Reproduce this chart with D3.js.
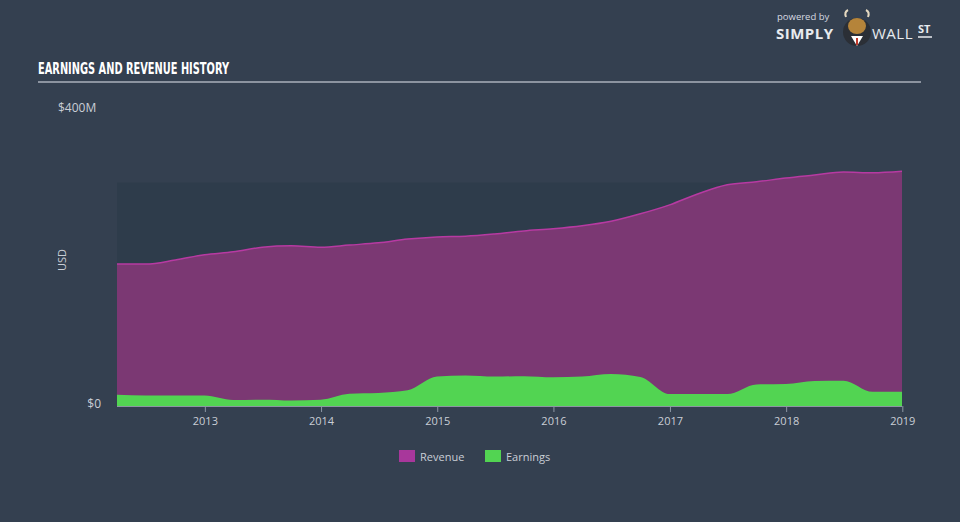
<!DOCTYPE html>
<html><head><meta charset="utf-8">
<script src="https://cdn.jsdelivr.net/npm/d3@7"></script>
<style>
html,body{margin:0;padding:0;background:#344050;}
svg{display:block;}
</style></head>
<body>
<svg id="chart" width="960" height="522"></svg>
<script>
const dates = ["2012-03-31","2012-06-30","2012-09-30","2012-12-31",
  "2013-03-31","2013-06-30","2013-09-30","2013-12-31",
  "2014-03-31","2014-06-30","2014-09-30","2014-12-31",
  "2015-03-31","2015-06-30","2015-09-30","2015-12-31",
  "2016-03-31","2016-06-30","2016-09-30","2016-12-31",
  "2017-03-31","2017-06-30","2017-09-30","2017-12-31",
  "2018-03-31","2018-06-30","2018-09-30","2018-12-31"];
const revenue = [190.6,190.6,196,203,207,213,215,213,216,219,224,227,228,231,235,238,242,248,258,270,285,297,301,306,310,314,313,315];
const earnings = [15,14,14,14,8,8.5,7.5,8.5,16.5,17.5,21,39.5,41,39.5,40,38.5,39.5,43,39,16,16,16,29,29.5,33.5,34,19,19];
const xTickYears = [2013,2014,2015,2016,2017,2018,2019];
const yTicks = [0,400];
const bandTop = 300;
const legendItems = ["Revenue","Earnings"];

const parse = d3.timeParse("%Y-%m-%d");
const data = dates.map((d,i)=>({date:parse(d), rev:revenue[i], earn:earnings[i]}));

const svg = d3.select("#chart");
const colors = {bg:"#344050", band:"#2e3c4b", revFill:"#7b3873", revLine:"#b73aa2", earn:"#52d452", text:"#c9ced6", axis:"#8c96a3"};

svg.append("rect").attr("width",960).attr("height",522).attr("fill",colors.bg);

const x = d3.scaleTime().domain([data[0].date, data[data.length-1].date]).range([117,902]);
const y = d3.scaleLinear().domain([0,400]).range([406,108]);

// shaded band
svg.append("rect").attr("x",x(data[0].date)).attr("y",y(bandTop))
  .attr("width",x(data[data.length-1].date)-x(data[0].date)).attr("height",y(0)-y(bandTop))
  .attr("fill",colors.band);

// title
svg.append("text").attr("x",38).attr("y",74).text("EARNINGS AND REVENUE HISTORY")
  .attr("fill","#ffffff").attr("font-family","'Liberation Sans Narrow','DejaVu Sans Condensed',sans-serif")
  .attr("font-weight","bold").attr("font-size",16).attr("textLength",191).attr("lengthAdjust","spacingAndGlyphs");
svg.append("line").attr("x1",38).attr("x2",921).attr("y1",82).attr("y2",82)
  .attr("stroke","#aab1bb").attr("stroke-width",1.5);

// areas
const curve = d3.curveMonotoneX;
const revArea = d3.area().x(d=>x(d.date)).y0(y(0)).y1(d=>y(d.rev)).curve(curve);
const revLine = d3.line().x(d=>x(d.date)).y(d=>y(d.rev)).curve(curve);
const earnArea = d3.area().x(d=>x(d.date)).y0(y(0)).y1(d=>y(d.earn)).curve(curve);

svg.append("path").datum(data).attr("d",revArea).attr("fill",colors.revFill);
svg.append("path").datum(data).attr("d",revLine).attr("fill","none").attr("stroke",colors.revLine).attr("stroke-width",1.5);
svg.append("path").datum(data).attr("d",earnArea).attr("fill",colors.earn);

// x axis
const xAxis = d3.axisBottom(x)
  .tickValues(xTickYears.map(yr=>new Date(yr,0,1)))
  .tickFormat(d3.timeFormat("%Y")).tickSize(6).tickSizeOuter(0);
const gx = svg.append("g").attr("transform",`translate(0,${y(0)})`).call(xAxis);
gx.select(".domain").attr("stroke",colors.axis).attr("d",`M${x(data[0].date)},0.5H${x(data[data.length-1].date)}`);
gx.selectAll(".tick line").attr("stroke",colors.axis);
gx.selectAll(".tick text").attr("fill",colors.text).attr("font-family","'Open Sans',sans-serif").attr("font-size",11).attr("dy","0.9em");

// y labels
svg.append("text").attr("x",58).attr("y",y(400)+4).text("$400M")
  .attr("fill",colors.text).attr("font-family","'Open Sans',sans-serif").attr("font-size",12);
svg.append("text").attr("x",101).attr("y",y(0)+2).attr("text-anchor","end").text("$0")
  .attr("fill",colors.text).attr("font-family","'Open Sans',sans-serif").attr("font-size",12);
svg.append("text").attr("transform","translate(66,260) rotate(-90)").attr("text-anchor","middle").text("USD")
  .attr("fill",colors.text).attr("font-family","'Open Sans',sans-serif").attr("font-size",11);

// legend
const legend = svg.append("g");
const lx = [399,485];
const lc = [ "#a8379b", colors.earn];
legendItems.forEach((name,i)=>{
  legend.append("rect").attr("x",lx[i]).attr("y",450).attr("width",16).attr("height",12).attr("fill",lc[i]);
  legend.append("text").attr("x",lx[i]+21).attr("y",460.5).text(name)
    .attr("fill",colors.text).attr("font-family","'Open Sans',sans-serif").attr("font-size",11);
});

// logo
const logo = svg.append("g");
logo.append("text").attr("x",777).attr("y",20).text("powered by").attr("fill","#d6dae0")
  .attr("font-family","'Open Sans',sans-serif").attr("font-size",9.5);
logo.append("text").attr("x",776).attr("y",39).text("SIMPLY").attr("fill","#e8ebef")
  .attr("font-family","'Open Sans',sans-serif").attr("font-weight","bold").attr("font-size",15).attr("letter-spacing",0.5);
logo.append("circle").attr("cx",857).attr("cy",32).attr("r",14).attr("fill","#2b2f36");
logo.append("ellipse").attr("cx",857).attr("cy",26).attr("rx",9).attr("ry",8).attr("fill","#b5843a");
logo.append("path").attr("d","M846,17 Q844,12 848,10 M868,17 Q870,12 866,10").attr("stroke","#e5d9c0").attr("stroke-width",2).attr("fill","none");
logo.append("path").attr("d","M851,36 L857,46 L863,36 Z").attr("fill","#ffffff");
logo.append("line").attr("x1",857).attr("x2",857).attr("y1",38).attr("y2",45).attr("stroke","#c0392b").attr("stroke-width",2);
logo.append("text").attr("x",872).attr("y",39).text("WALL").attr("fill","#e8ebef")
  .attr("font-family","'Open Sans',sans-serif").attr("font-size",15).attr("letter-spacing",0.5);
logo.append("text").attr("x",918).attr("y",33).text("ST").attr("fill","#e8ebef")
  .attr("font-family","'Open Sans',sans-serif").attr("font-weight","bold").attr("font-size",11);
logo.append("line").attr("x1",918).attr("x2",932).attr("y1",37).attr("y2",37).attr("stroke","#e8ebef").attr("stroke-width",1.5);
</script>
</body></html>
